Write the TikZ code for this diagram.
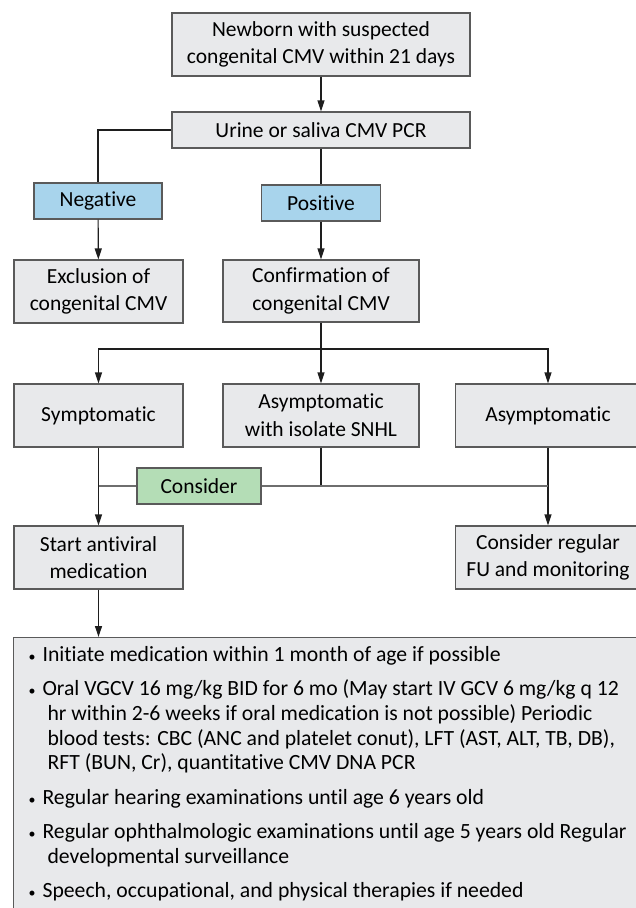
\documentclass[tikz,border=0pt]{standalone}
\usepackage{fontspec}
\setmainfont{Carlito}[Ligatures=NoCommon]
\usetikzlibrary{arrows.meta,positioning}
\definecolor{boxfill}{HTML}{E8E9EB}
\definecolor{boxline}{HTML}{5A5A5A}
\definecolor{testfill}{HTML}{A8D4EC}
\definecolor{consfill}{HTML}{B4DDB6}
\definecolor{flowline}{HTML}{1E1E1E}
\definecolor{softline}{HTML}{6E6E6E}
\newcommand{\carebul}{\makebox[14pt][l]{{\fontsize{14}{14}\selectfont\textbullet}}}
\newcommand{\careind}{\hspace*{19pt}}

\begin{document}
\begin{tikzpicture}[x=1pt,y=-1pt,
	box/.style={draw=boxline,fill=boxfill,line width=1.1pt,align=center,inner sep=0pt,
		font=\fontsize{21.5}{27.7}\selectfont},
	tall/.style={box,minimum height=63pt},
	tag/.style={box,minimum height=36pt},
	flow/.style={draw=flowline,line width=1.2pt},
	arr/.style={flow,-{Triangle[length=11pt,width=7pt]}},
	soft/.style={draw=softline,line width=1.2pt}]
	\useasboundingbox (0,0) rectangle (636,908);
	\clip (0,0) rectangle (636,908);
	% test
	\node[tall,minimum width=298pt] (new) at (321,44.5) {Newborn with suspected\\congenital CMV within 21 days};
	\node[tag,minimum width=298pt] (pcr) at (321,130) {Urine or saliva CMV PCR};
	\node[tag,fill=testfill,minimum width=128pt] (neg) at (98,201) {Negative};
	\node[tag,fill=testfill,minimum width=119pt] (pos) at (321,203) {Positive};
	\node[tall,minimum width=169pt] (excl) at (98.5,291.5) {Exclusion of\\congenital CMV};
	\node[tall,minimum width=196pt,minimum height=62pt] (conf) at (321,291) {Confirmation of\\congenital CMV};
	% groups
	\node[tall,minimum width=169pt] (sym) at (98.5,415.5) {Symptomatic};
	\node[tall,minimum width=196pt] (snhl) at (321,415.5) {Asymptomatic\\with isolate SNHL};
	\node[tall,minimum width=185pt] (asym) at (548,415.5) {Asymptomatic};
	\node[tag,fill=consfill,minimum width=124pt] (cons) at (199,486) {Consider};
	\node[tall,minimum width=169pt] (start) at (98.5,557.5) {Start antiviral\\medication};
	\node[tall,minimum width=185pt] (fu) at (548,557.5) {Consider regular\\FU and monitoring};
	\coordinate (br) at (321,349);
	% care list
	\node[box,anchor=north west,align=left,inner xsep=15pt,inner ysep=9pt,
		font=\fontsize{21.7}{24.7}\selectfont] (care) at (13,637) {%
		\begin{minipage}[t][290pt][t]{640pt}\raggedright\parskip=9.5pt
		\carebul Initiate medication within 1 month of age if possible\par
		\carebul Oral VGCV 16 mg/kg BID for 6 mo (May start IV GCV 6 mg/kg q 12\\
		\careind hr within 2-6 weeks if oral medication is not possible) Periodic\\
		\careind blood tests: CBC (ANC and platelet conut), LFT (AST, ALT, TB, DB),\\
		\careind RFT (BUN, Cr), quantitative CMV DNA PCR\par
		\carebul Regular hearing examinations until age 6 years old\par
		\carebul Regular ophthalmologic examinations until age 5 years old Regular\\
		\careind developmental surveillance\par
		\carebul Speech, occupational, and physical therapies if needed
		\end{minipage}};
	% connectors
	\draw[arr] (new) -- (pcr);
	\draw[flow] (pcr.west) -| (neg.north);
	\draw[flow] (pcr) -- (pos);
	\draw[arr] (neg) -- (excl);
	\draw[arr] (pos) -- (conf);
	\draw[arr] (conf) -- (snhl);
	\draw[arr] (br) -| (sym.north);
	\draw[arr] (br) -| (asym.north);
	\draw[arr] (sym) -- (start);
	\draw[arr] (asym) -- (fu);
	\draw[flow] (snhl.south) -- (snhl.south |- cons);
	\draw[soft] (cons.west) -- (sym.south |- cons);
	\draw[soft] (cons.east) -- (asym.south |- cons);
	\draw[arr] (start.south) -- (start.south |- care.north);
\end{tikzpicture}
\end{document}
